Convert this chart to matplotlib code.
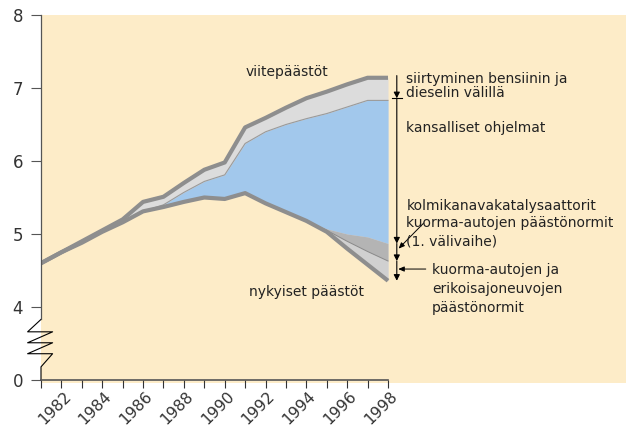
import matplotlib
matplotlib.use("Agg")
import matplotlib.pyplot as plt
import matplotlib.transforms as mtransforms
import numpy as np

# --- data ---
years = list(range(1981, 1999))

# viitepäästöt (reference emissions, top line)
viite = [4.60, 4.75, 4.90, 5.05, 5.20, 5.44, 5.51, 5.70, 5.88, 5.98,
         6.46, 6.59, 6.73, 6.86, 6.95, 7.05, 7.14, 7.14]
# upper edge of the blue band (kansalliset ohjelmat)
kansalliset = [4.60, 4.75, 4.88, 5.03, 5.16, 5.31, 5.40, 5.57, 5.72, 5.81,
               6.24, 6.40, 6.50, 6.58, 6.65, 6.74, 6.83, 6.83]
# lower edge of the blue band (kolmikanavakatalysaattorit ...)
katalys = [4.60, 4.75, 4.88, 5.03, 5.16, 5.31, 5.37, 5.44, 5.50, 5.48,
           5.56, 5.42, 5.30, 5.18, 5.07, 5.00, 4.96, 4.87]
# lower edge of the dark grey band (1. välivaihe)
valivaihe = [4.60, 4.75, 4.88, 5.03, 5.16, 5.31, 5.37, 5.44, 5.50, 5.48,
             5.56, 5.42, 5.30, 5.18, 5.05, 4.90, 4.76, 4.63]
# nykyiset päästöt (current emissions, bottom line)
nykyiset = [4.60, 4.75, 4.88, 5.03, 5.16, 5.31, 5.37, 5.44, 5.50, 5.48,
            5.56, 5.42, 5.30, 5.18, 5.03, 4.80, 4.58, 4.36]

ytick_pos = [3, 4, 5, 6, 7, 8]
ytick_labels = ["0", "4", "5", "6", "7", "8"]
xtick_major = list(range(1982, 1999, 2))

PEACH = "#FDECC8"
BLUE = "#A2C8EC"
LIGHT = "#DCDCDC"
MID = "#B4B4B4"
LOW = "#D0D0D0"
LINE = "#8E8E8E"
AX = "#555555"
TXT = "#222222"

W, H = 626, 430
fig = plt.figure(figsize=(W / 100, H / 100), dpi=100)
# axes box in pixels: left 41, right 626, top 15, bottom 383
ax = fig.add_axes([41 / W, (H - 383) / H, (W - 41) / W, (383 - 15) / H])
ax.set_facecolor(PEACH)

px_year = 347 / 17.0
px_unit = 73.0
ax.set_xlim(1981, 1981 + 585 / px_year)
ax.set_ylim(8 - 368 / px_unit, 8)

# bands
ax.fill_between(years, nykyiset, viite, color=LIGHT, lw=0)
ax.fill_between(years, katalys, kansalliset, color=BLUE, lw=0)
ax.fill_between(years, valivaihe, katalys, color=MID, lw=0)
ax.fill_between(years, nykyiset, valivaihe, color=LOW, lw=0)
ax.plot(years, kansalliset, color="#9A9A9A", lw=0.8)
ax.plot(years, valivaihe, color="#8A8A8A", lw=0.7)
ax.plot(years, nykyiset, color=LINE, lw=3, solid_capstyle="butt")
ax.plot(years, viite, color=LINE, lw=3, solid_capstyle="butt")

# spines / ticks
for s in ["top", "right"]:
    ax.spines[s].set_visible(False)
ax.spines["bottom"].set_position(("data", 3))
ax.spines["bottom"].set_bounds(1981, 1998)
ax.spines["bottom"].set_color(AX)
ax.spines["bottom"].set_linewidth(1.2)
ax.spines["left"].set_bounds(3.83, 8)
ax.spines["left"].set_color(AX)
ax.spines["left"].set_linewidth(0.9)

# axis break (zigzag) on the y axis
dl, dr = -13.4 / px_year, 11.6 / px_year
zx = [1981, 1981 + dl, 1981 + dr, 1981 + dl, 1981 + dr, 1981 + dl, 1981 + dr, 1981, 1981]
zy = [3.83, 3.66, 3.66, 3.51, 3.51, 3.36, 3.36, 3.18, 3.0]
ax.plot(zx, zy, color="black", lw=0.8, clip_on=False)

ax.set_yticks(ytick_pos, ytick_labels)
ax.tick_params(axis="y", length=7.5, width=0.8, color=AX, pad=5.5,
               labelsize=12, labelcolor="#333333")
ax.set_xticks(xtick_major, [str(y) for y in xtick_major])
ax.set_xticks(years, minor=True)
ax.tick_params(axis="x", which="both", length=6, width=0.8, color="#333333")
ax.tick_params(axis="x", which="major", pad=4.0, labelsize=11.2, labelcolor="#333333")
shift = mtransforms.ScaledTranslation(7 / 100, 0, fig.dpi_scale_trans)
for lab in ax.get_xticklabels():
    lab.set_rotation(45)
    lab.set_rotation_mode("anchor")
    lab.set_ha("right")
    lab.set_va("center")
    lab.set_transform(lab.get_transform() + shift)

# right-hand bracket with arrows
xa = 1981 + 355.8 / px_year
stops = [viite[-1] + 0.03, kansalliset[-1] + 0.03, katalys[-1], valivaihe[-1], nykyiset[-1]]
for a, b in zip(stops[:-1], stops[1:]):
    ax.annotate("", xy=(xa, b), xytext=(xa, a),
                arrowprops=dict(arrowstyle="-|>,head_length=0.35,head_width=0.18",
                                color="black", lw=0.8, shrinkA=0, shrinkB=0))
ax.plot([xa - 0.25, xa + 0.25], [stops[1], stops[1]], color="black", lw=0.8)
ax.annotate("", xy=(1998.52, 4.80), xytext=(1999.75, 5.15),
            arrowprops=dict(arrowstyle="-|>,head_length=0.35,head_width=0.15",
                            color="black", lw=0.7, shrinkA=0, shrinkB=0))
ax.annotate("", xy=(1998.50, 4.52), xytext=(1999.85, 4.52),
            arrowprops=dict(arrowstyle="-|>,head_length=0.35,head_width=0.15",
                            color="black", lw=0.7, shrinkA=0, shrinkB=0))

# labels
fs = 10
ax.text(1993.07, 7.164, "viitepäästöt", ha="center", va="baseline", fontsize=fs, color=TXT)
ax.text(1993.99, 4.15, "nykyiset päästöt", ha="center", va="baseline", fontsize=fs, color=TXT)

xt = 1998.90
ax.text(xt, 7.064, "siirtyminen bensiinin ja", va="baseline", fontsize=fs, color=TXT)
ax.text(xt, 6.88, "dieselin välillä", va="baseline", fontsize=fs, color=TXT)
ax.text(xt, 6.40, "kansalliset ohjelmat", va="baseline", fontsize=fs, color=TXT)
ax.text(xt, 5.329, "kolmikanavakatalysaattorit", va="baseline", fontsize=fs, color=TXT)
ax.text(xt, 5.09, "kuorma-autojen päästönormit", va="baseline", fontsize=fs, color=TXT)
ax.text(xt, 4.84, "(1. välivaihe)", va="baseline", fontsize=fs, color=TXT)
xt2 = 2000.16
ax.text(xt2, 4.452, "kuorma-autojen ja", va="baseline", fontsize=fs, color=TXT)
ax.text(xt2, 4.196, "erikoisajoneuvojen", va="baseline", fontsize=fs, color=TXT)
ax.text(xt2, 3.936, "päästönormit", va="baseline", fontsize=fs, color=TXT)

fig.savefig("out.png", dpi=100)
